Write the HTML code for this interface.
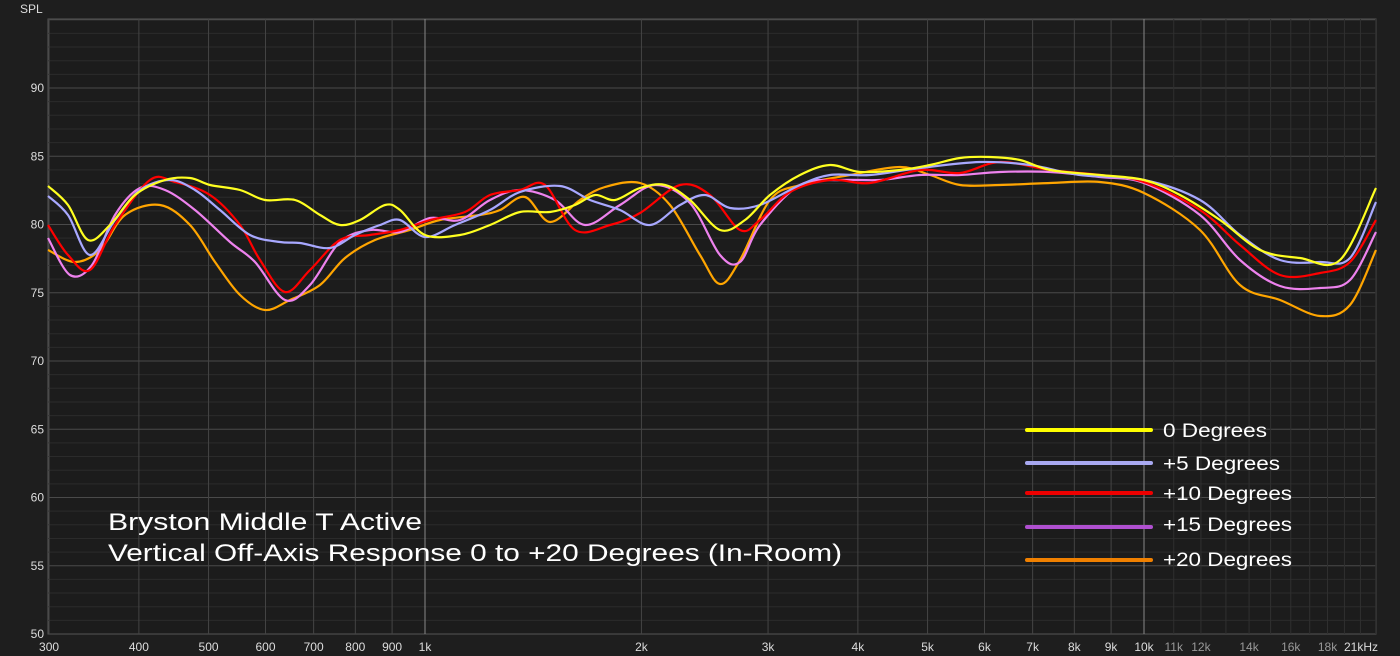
<!DOCTYPE html><html><head><meta charset="utf-8"><style>
html,body{margin:0;padding:0;background:#1e1e1e;}
svg{display:block;font-family:"Liberation Sans",sans-serif;}
</style></head><body>
<svg id="s" width="1400" height="656" xmlns="http://www.w3.org/2000/svg">
<rect width="1400" height="656" fill="#1e1e1e"/>
<rect x="48" y="19" width="1328" height="615" fill="#1c1c1c" stroke="#555" stroke-width="1"/>
<g id="grid"></g>
<g id="curves" fill="none" stroke-width="2.2"></g>
<g fill="#ddd" font-size="12">
<text x="20" y="13" fill="#ddd">SPL</text>
</g>
<g id="lbl" font-size="12" fill="#ddd"></g>
<g stroke-width="4" stroke-linecap="round">
<line x1="1027" y1="430" x2="1151" y2="430" stroke="#ffff00"/>
<line x1="1027" y1="463" x2="1151" y2="463" stroke="#a8a8f0"/>
<line x1="1027" y1="493" x2="1151" y2="493" stroke="#ee0000"/>
<line x1="1027" y1="527" x2="1151" y2="527" stroke="#b050d0"/>
<line x1="1027" y1="560" x2="1151" y2="560" stroke="#f08000"/>
</g>
<g fill="#fff" font-size="19">
<text x="1163" y="437" textLength="104" lengthAdjust="spacingAndGlyphs">0 Degrees</text>
<text x="1163" y="470" textLength="117" lengthAdjust="spacingAndGlyphs">+5 Degrees</text>
<text x="1163" y="500" textLength="129" lengthAdjust="spacingAndGlyphs">+10 Degrees</text>
<text x="1163" y="531" textLength="129" lengthAdjust="spacingAndGlyphs">+15 Degrees</text>
<text x="1163" y="566" textLength="129" lengthAdjust="spacingAndGlyphs">+20 Degrees</text>
</g>
<g fill="#fff" font-size="24">
<text x="108" y="530" textLength="314" lengthAdjust="spacingAndGlyphs">Bryston Middle T Active</text>
<text x="108" y="561" textLength="734" lengthAdjust="spacingAndGlyphs">Vertical Off-Axis Response 0 to +20 Degrees (In-Room)</text>
</g>
</svg>
<script>
var NS="http://www.w3.org/2000/svg";
function fx(f){return 425+719*Math.log10(f/1000);}
function fy(v){return 88+(90-v)*13.65;}
function el(t,a,p){var e=document.createElementNS(NS,t);for(var k in a)e.setAttribute(k,a[k]);p.appendChild(e);return e;}
var g=document.getElementById('grid'),L=document.getElementById('lbl');
for(var v=51;v<=95;v++){var y=fy(v);el('line',{x1:48,x2:1376,y1:y,y2:y,stroke:v%5==0?'#4a4a4a':'#2b2b2b','stroke-width':1},g);}
var fs=[];for(var f=300;f<1000;f+=100)fs.push(f);for(f=1000;f<10000;f+=1000)fs.push(f);for(f=10000;f<=21000;f+=1000)fs.push(f);
fs.forEach(function(f){var x=fx(f);var maj=(f==1000||f==10000);el('line',{x1:x,x2:x,y1:19,y2:634,stroke:maj?'#888':(f>10000?'#303030':'#444'),'stroke-width':1},g);});
for(v=50;v<=90;v+=5){var t=el('text',{x:44,y:fy(v)+4,'text-anchor':'end'},L);t.textContent=v;}
var xl=[[300,'300'],[400,'400'],[500,'500'],[600,'600'],[700,'700'],[800,'800'],[900,'900'],[1000,'1k'],[2000,'2k'],[3000,'3k'],[4000,'4k'],[5000,'5k'],[6000,'6k'],[7000,'7k'],[8000,'8k'],[9000,'9k'],[10000,'10k'],[11000,'11k',1],[12000,'12k',1],[14000,'14k',1],[16000,'16k',1],[18000,'18k',1]];
xl.forEach(function(a){var t=el('text',{x:fx(a[0]),y:651,'text-anchor':'middle',fill:a[2]?'#999':'#ddd'},L);t.textContent=a[1];});
var t=el('text',{x:1378,y:651,'text-anchor':'end'},L);t.textContent='21kHz';
function path(p){var d='M'+p[0][0]+','+p[0][1];for(var i=0;i<p.length-1;i++){var p0=p[Math.max(0,i-1)],p1=p[i],p2=p[i+1],p3=p[Math.min(p.length-1,i+2)];
d+=' C'+(p1[0]+(p2[0]-p0[0])/6)+','+(p1[1]+(p2[1]-p0[1])/6)+' '+(p2[0]-(p3[0]-p1[0])/6)+','+(p2[1]-(p3[1]-p1[1])/6)+' '+p2[0]+','+p2[1];}return d;}
var S=[
['#ffa500',[[48,250],[75,262],[100,250],[125,215],[160,205],[190,225],[215,262],[240,295],[265,310],[290,300],[320,285],[345,258],[375,240],[410,230],[440,220],[480,215],[500,210],[525,197],[550,222],[580,200],[605,187],[640,183],[670,205],[700,255],[720,284],[740,260],[770,200],[800,185],[850,175],[900,167],[930,175],[960,185],[1000,185],[1050,183],[1100,182],[1144,193],[1200,230],[1240,285],[1280,300],[1320,316],[1350,305],[1376,250]]],
['#ee82ee',[[48,238],[70,275],[92,265],[115,215],[140,188],[165,190],[195,210],[230,242],[255,262],[285,300],[310,285],[340,242],[370,230],[400,232],[430,218],[460,220],[490,200],[520,190],[555,200],[585,225],[620,205],[655,185],[690,203],[720,255],[740,262],[760,225],[800,185],[840,180],[880,180],[920,175],[960,175],[1000,172],[1050,172],[1100,177],[1144,183],[1200,215],[1240,260],[1280,286],[1320,288],[1350,280],[1376,232]]],
['#ff0000',[[48,225],[68,255],[90,270],[115,225],[150,180],[175,182],[210,195],[240,225],[260,260],[285,292],[310,270],[340,240],[370,235],[400,230],[430,220],[465,212],[490,195],[520,190],[545,185],[575,230],[610,225],[640,213],[680,185],[710,195],[740,230],[760,220],[790,192],[830,180],[870,183],[920,170],[960,173],[1000,162],[1050,170],[1100,175],[1144,182],[1200,210],[1240,245],[1280,275],[1320,273],[1350,262],[1376,220]]],
['#a8a8ff',[[48,196],[68,215],[90,255],[115,220],[140,190],[170,180],[195,190],[220,210],[250,235],[280,242],[300,243],[330,248],[355,235],[380,225],[400,220],[425,237],[455,225],[490,210],[520,192],[560,186],[590,200],[620,210],[650,225],[680,205],[705,195],[730,208],[760,205],[800,185],[830,175],[870,175],[920,168],[980,162],[1030,165],[1080,175],[1144,180],[1200,200],[1240,235],[1280,260],[1320,262],[1350,258],[1376,202]]],
['#ffff20',[[48,186],[68,205],[88,240],[110,225],[135,195],[165,180],[190,178],[210,185],[240,190],[265,200],[295,200],[320,215],[340,225],[360,220],[385,205],[400,210],[425,235],[460,235],[490,225],[520,212],[550,212],[575,205],[595,195],[615,200],[640,188],[665,185],[690,200],[720,230],[745,220],[770,195],[800,175],[830,165],[860,172],[900,170],[930,165],[960,158],[990,157],[1020,160],[1050,170],[1100,175],[1144,180],[1180,195],[1220,220],[1260,250],[1300,258],[1340,260],[1376,188]]]
];
var C=document.getElementById('curves');
S.forEach(function(s){el('path',{d:path(s[1]),stroke:s[0]},C);});
</script>
</body></html>
